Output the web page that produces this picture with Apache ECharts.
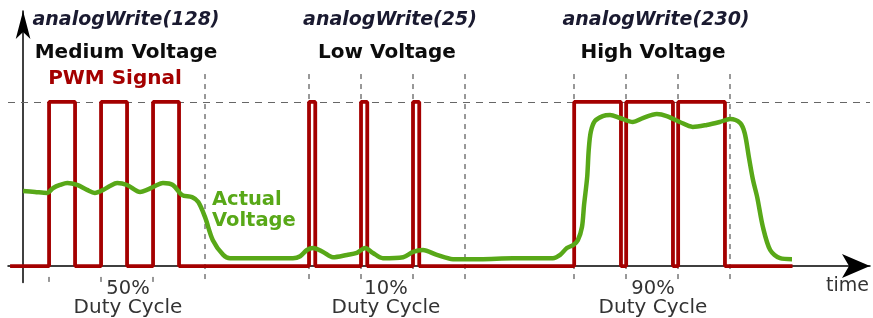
<!DOCTYPE html>
<html><head><meta charset="utf-8">
<script src="https://cdn.jsdelivr.net/npm/echarts@6/dist/echarts.min.js"></script>
<style>html,body{margin:0;padding:0;background:#fff}#c{width:873px;height:318px}</style>
</head><body><div id="c"></div>
<script>
// PWM signal transitions (time in PWM periods, level in volts)
const pwmTime  = [-0.25, 0.5, 1.0, 1.5, 2.0, 2.5, 3.0, 5.5, 5.62, 6.5, 6.62, 7.5, 7.62, 10.6, 11.5, 11.6, 12.5, 12.6, 13.5, 14.8];
const pwmLevel = [0, 5, 0, 5, 0, 5, 0, 5, 0, 5, 0, 5, 0, 5, 0, 5, 0, 5, 0, 0];

// Actual (filtered) voltage
const voltTime = [0, 0.23, 0.46, 0.58, 0.71, 0.85, 1.04, 1.23, 1.38, 1.54, 1.67, 1.81, 2.0, 2.25, 2.38, 2.54, 2.69, 2.88, 3.06, 3.25, 3.37, 3.5, 3.65, 3.85, 3.98, 4.56, 5.19, 5.33, 5.46, 5.58, 5.77, 5.96, 6.23, 6.42, 6.58, 6.73, 6.92, 7.31, 7.5, 7.69, 7.96, 8.27, 8.79, 9.42, 10.19, 10.33, 10.46, 10.58, 10.67, 10.75, 10.79, 10.85, 10.88, 10.92, 11.0, 11.15, 11.29, 11.48, 11.73, 11.92, 12.19, 12.38, 12.63, 12.88, 13.15, 13.4, 13.6, 13.79, 13.88, 13.96, 14.04, 14.12, 14.23, 14.37, 14.56, 14.79];
const voltValue = [2.29, 2.26, 2.23, 2.38, 2.47, 2.53, 2.47, 2.32, 2.23, 2.32, 2.44, 2.53, 2.47, 2.26, 2.32, 2.44, 2.53, 2.47, 2.16, 2.10, 1.95, 1.49, 0.79, 0.34, 0.24, 0.24, 0.24, 0.30, 0.49, 0.55, 0.43, 0.27, 0.34, 0.40, 0.55, 0.40, 0.24, 0.27, 0.43, 0.49, 0.34, 0.21, 0.21, 0.24, 0.24, 0.34, 0.55, 0.64, 0.79, 1.19, 1.86, 2.71, 3.54, 4.09, 4.42, 4.57, 4.60, 4.51, 4.39, 4.51, 4.63, 4.57, 4.39, 4.24, 4.30, 4.39, 4.48, 4.36, 4.05, 3.32, 2.62, 2.10, 1.19, 0.49, 0.24, 0.21];

// Period boundary markers
const boundaryFull = [3.5, 5.5, 6.5, 7.5, 8.5, 10.6, 11.6, 12.6, 13.6];
const boundaryTick = [0.5, 1.5, 2.5];
const highLevel = 5;

// Annotation texts
const titles = ['analogWrite(128)', 'analogWrite(25)', 'analogWrite(230)'];
const levels = ['Medium Voltage', 'Low Voltage', 'High Voltage'];
const duties = ['50%', '10%', '90%'];
const dutyLabel = 'Duty Cycle';
const pwmLabel = 'PWM Signal';
const voltLabel = ['Actual', 'Voltage'];
const axisLabel = 'time';

const RED = '#a40000', GREEN = '#58a818', DARK = '#0c0c0c';
const chart = echarts.init(document.getElementById('c'), null, {renderer: 'canvas'});

const vLines = boundaryFull.map(t => [{coord: [t, 5.85]}, {coord: [t, -0.5]}])
  .concat(boundaryTick.map(t => [{coord: [t, -0.33]}, {coord: [t, -0.5]}]));

const titleX = [126, 390, 656], levelX = [126, 387, 653], dutyX = [128, 386, 653];
const graphics = [];
for (let i = 0; i < 3; i++) {
  graphics.push({type: 'text', x: titleX[i], y: 20, style: {text: titles[i], fill: '#1a1a30', font: 'italic bold 19px "DejaVu Sans"', textAlign: 'center', textVerticalAlign: 'middle'}});
  graphics.push({type: 'text', x: levelX[i], y: 53, style: {text: levels[i], fill: DARK, font: 'bold 20px "DejaVu Sans"', textAlign: 'center', textVerticalAlign: 'middle'}});
  graphics.push({type: 'text', x: dutyX[i], y: 289, style: {text: duties[i], fill: '#333', font: '19.5px "DejaVu Sans"', textAlign: 'center', textVerticalAlign: 'middle'}});
  graphics.push({type: 'text', x: dutyX[i], y: 308, style: {text: dutyLabel, fill: '#333', font: '20px "DejaVu Sans"', textAlign: 'center', textVerticalAlign: 'middle'}});
}
graphics.push({type: 'text', x: 115, y: 79, style: {text: pwmLabel, fill: RED, font: 'bold 20px "DejaVu Sans"', textAlign: 'center', textVerticalAlign: 'middle'}});
graphics.push({type: 'text', x: 212, y: 200, style: {text: voltLabel[0], fill: GREEN, font: 'bold 19.5px "DejaVu Sans"', textAlign: 'left', textVerticalAlign: 'middle'}});
graphics.push({type: 'text', x: 212, y: 221, style: {text: voltLabel[1], fill: GREEN, font: 'bold 19.5px "DejaVu Sans"', textAlign: 'left', textVerticalAlign: 'middle'}});
graphics.push({type: 'text', x: 826, y: 286, style: {text: axisLabel, fill: '#333', font: '19px "DejaVu Sans"', textAlign: 'left', textVerticalAlign: 'middle'}});

chart.setOption({
  animation: false,
  grid: {left: 8, right: 3, top: 11, bottom: 35.5},
  xAxis: {
    type: 'value', min: -0.29, max: 16.29,
    axisLine: {onZero: true, lineStyle: {color: '#000', width: 1.5}, symbol: ['none', 'arrow'], symbolSize: [18, 28]},
    axisTick: {show: false}, axisLabel: {show: false}, splitLine: {show: false}
  },
  yAxis: {
    type: 'value', min: -0.5, max: 7.77,
    axisLine: {show: true, onZero: true, lineStyle: {color: '#000', width: 1.5}, symbol: ['none', 'arrow'], symbolSize: [11, 28]},
    axisTick: {show: false}, axisLabel: {show: false}, splitLine: {show: false}
  },
  graphic: graphics,
  series: [
    {
      type: 'line', data: [], silent: true, z: 1,
      markLine: {
        silent: true, z: 1, symbol: 'none', label: {show: false},
        lineStyle: {color: '#666', type: [7, 6], width: 1.2},
        data: [{yAxis: highLevel}]
      }
    },
    {
      type: 'line', data: [], silent: true, z: 1,
      markLine: {
        silent: true, z: 1, symbol: 'none', label: {show: false},
        lineStyle: {color: '#777', type: [5, 5], width: 1.5},
        data: vLines
      }
    },
    {
      type: 'line', step: 'end', z: 3, showSymbol: false, symbol: 'none',
      lineStyle: {color: RED, width: 3.8},
      data: pwmTime.map((t, i) => [t, pwmLevel[i]])
    },
    {
      type: 'line', smooth: 0.3, z: 4, showSymbol: false, symbol: 'none',
      lineStyle: {color: GREEN, width: 4.5},
      data: voltTime.map((t, i) => [t, voltValue[i]])
    }
  ]
});
</script></body></html>
